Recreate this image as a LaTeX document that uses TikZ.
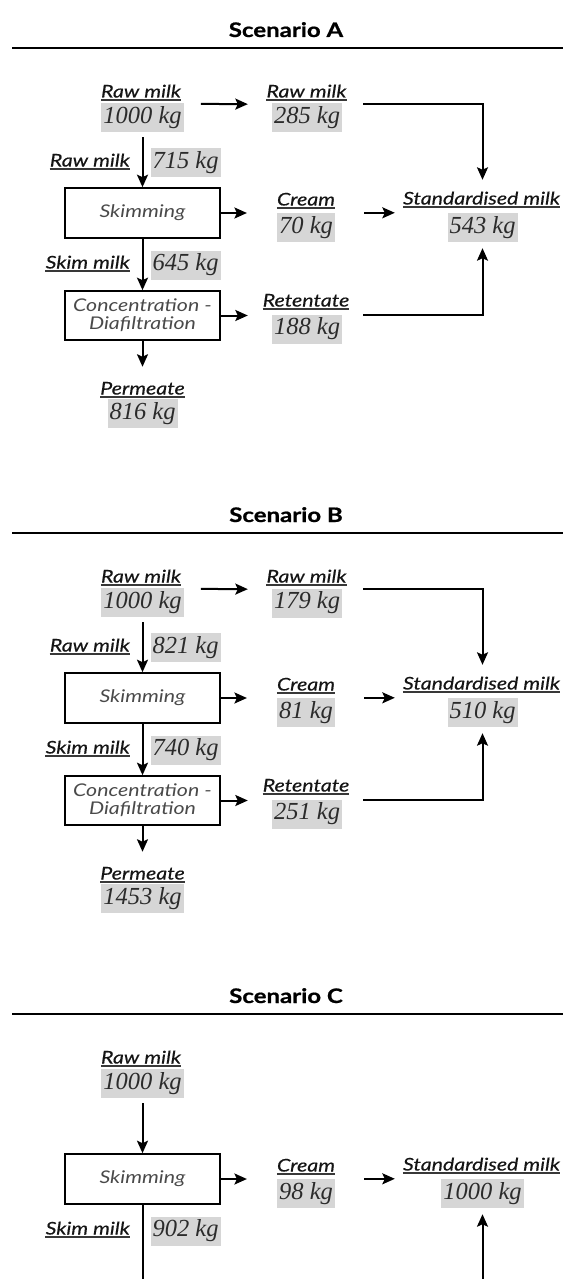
\documentclass[tikz,border=0pt]{standalone}
\usepackage{fontspec}
\setmainfont{Liberation Serif}
\newfontfamily\latofam{Lato}[FakeStretch=1.22]
\newfontfamily\labfam{Lato}[FakeStretch=1.22, FakeBold=0.4]
\newfontfamily\ttlfam{Lato}[FakeStretch=1.2, BoldFeatures={FakeBold=0.8}]
\usetikzlibrary{arrows.meta}
\definecolor{valgray}{HTML}{D6D6D6}
\definecolor{valtext}{HTML}{2B2B2B}
\definecolor{labtext}{HTML}{151515}
\definecolor{proctext}{HTML}{4A4A4A}
\newcommand\labfontx{\labfam\itshape\fontsize{17.5}{20}\selectfont}
\newcommand\valfontx{\rmfamily\itshape\fontsize{24.5}{26}\selectfont}
\newcommand\procfontx{\latofam\itshape\fontsize{17.5}{18}\selectfont}
\newcommand\ttlfontx{\ttlfam\bfseries\fontsize{20}{22}\selectfont}
\tikzset{
  val/.style={fill=valgray, text=valtext, font=\valfontx, inner xsep=2pt, inner ysep=0pt, minimum height=29pt},
  lab/.style={font=\labfontx, text=labtext, inner sep=0pt, text depth=0pt, anchor=base,
    append after command={([yshift=-2.5pt]\tikzlastnode.base west) edge[draw=labtext!85, line width=1.4pt] ([yshift=-2.5pt]\tikzlastnode.base east)}},
  proc/.style={draw, line width=1.6pt, minimum width=155pt, minimum height=50pt, font=\procfontx, text=proctext, align=center, inner sep=0pt},
  arr/.style={line width=2pt, -{Stealth[length=12.5pt,width=11pt,inset=2.5pt]}},
  plainline/.style={line width=2pt},
  ttl/.style={font=\ttlfontx, anchor=base},
  rul/.style={line width=2.6pt}
}
% #1 letter, #2..#9 values
\newcommand\flowAB[9]{%
  \node[ttl] (#1t) at (286,37) {Scenario #1};
  \draw[rul] (12,48) -- (563,48);
  \node[val] (#1v1) at (142.5,117.5) {#2};
  \node[lab] (#1l1) at (141,97.5) {Raw milk};
  \node[val] (#1v2) at (307,118) {#3};
  \node[lab] (#1l2) at (306.5,97.5) {Raw milk};
  \node[val] (#1v3) at (185.5,162.5) {#4};
  \node[lab, anchor=base east] (#1l3) at (130,166.5) {Raw milk};
  \node[proc] (#1skim) at (142.5,213) {Skimming};
  \node[val] (#1v4) at (306,227.5) {#5};
  \node[lab] (#1l4) at (306,205.5) {Cream};
  \node[val] (#1v5) at (482.5,227.5) {#6};
  \node[lab] (#1l5) at (481.5,204.5) {Standardised milk};
  \node[val] (#1v6) at (185.5,265) {#7};
  \node[lab, anchor=base east] (#1l6) at (130,268.5) {Skim milk};
  \node[proc, minimum height=49pt] (#1conc) at (142.5,315.5) {Concentration -\\Diafiltration};
  \node[val] (#1v7) at (307,329) {#8};
  \node[lab] (#1l7) at (306,306.5) {Retentate};
  \node[val] (#1v8) at (142.5,413.5) {#9};
  \node[lab] (#1l8) at (142.5,394.5) {Permeate};
  \draw[arr, shorten <=17pt, shorten >=24pt] ([yshift=-1pt]#1v1.north east) -- ([yshift=-1pt]#1v2.north west);
  \draw[arr, shorten <=21pt, shorten >=33pt] ([yshift=-1pt]#1v2.north east) -| (#1v5.north);
  \draw[arr, shorten <=5pt] (#1v1.south) -- (#1skim.north);
  \draw[arr, shorten >=30pt] (#1skim.east) -- (#1skim.east -| #1v4.west);
  \draw[arr, shorten <=29pt, shorten >=8pt] (#1v4.north east) -- (#1v4.north east -| #1l5.west);
  \draw[arr] (#1skim.south) -- (#1conc.north);
  \draw[arr, shorten >=24pt] (#1conc.east) -- (#1conc.east -| #1v7.west);
  \draw[arr, shorten <=21pt, shorten >=6pt] ([yshift=-1pt]#1v7.north east) -| (#1v5.south);
  \draw[arr, shorten >=15pt] (#1conc.south) -- (#1l8.north);
}
\begin{document}
\begin{tikzpicture}[x=1pt,y=-1pt]
\useasboundingbox (0,0) rectangle (563,1279);
\flowAB{A}{1000 kg}{285 kg}{715 kg}{70 kg}{543 kg}{645 kg}{188 kg}{816 kg}
\begin{scope}[yshift=-485pt]
\flowAB{B}{1000 kg}{179 kg}{821 kg}{81 kg}{510 kg}{740 kg}{251 kg}{1453 kg}
\end{scope}
\begin{scope}[yshift=-966pt]
  \node[ttl] (Ct) at (286,37) {Scenario C};
  \draw[rul] (12,48) -- (563,48);
  \node[val] (Cv1) at (142.5,117.5) {1000 kg};
  \node[lab] (Cl1) at (141,97.5) {Raw milk};
  \node[proc] (Cskim) at (142.5,213) {Skimming};
  \node[val] (Cv4) at (306,227.5) {98 kg};
  \node[lab] (Cl4) at (306,205.5) {Cream};
  \node[val] (Cv5) at (482.5,227.5) {1000 kg};
  \node[lab] (Cl5) at (481.5,204.5) {Standardised milk};
  \node[val] (Cv6) at (185.5,265) {902 kg};
  \node[lab, anchor=base east] (Cl6) at (130,268.5) {Skim milk};
  \coordinate (Cend1) at (142.5,318);
  \coordinate (Cend2) at (482.5,318);
  \draw[arr, shorten <=5pt] (Cv1.south) -- (Cskim.north);
  \draw[arr, shorten >=30pt] (Cskim.east) -- (Cskim.east -| Cv4.west);
  \draw[arr, shorten <=29pt, shorten >=8pt] (Cv4.north east) -- (Cv4.north east -| Cl5.west);
  \draw[plainline] (Cskim.south) -- (Cend1);
  \draw[arr, shorten >=6pt] (Cend2) -- (Cv5.south);
\end{scope}
\end{tikzpicture}
\end{document}
